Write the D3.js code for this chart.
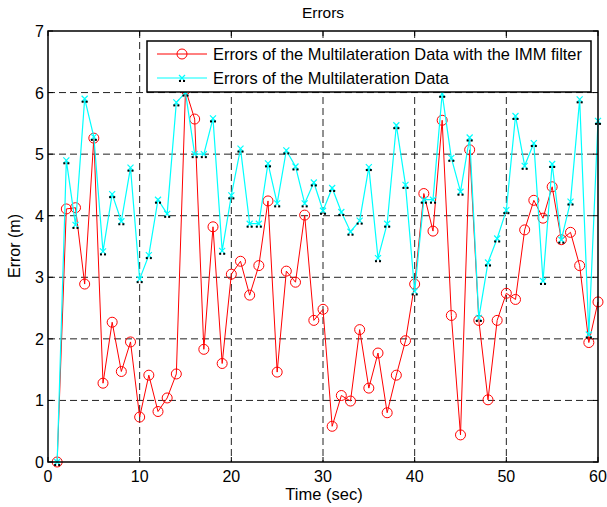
<!DOCTYPE html>
<html>
<head>
<meta charset="utf-8">
<script src="https://cdn.jsdelivr.net/npm/d3@7"></script>
<style>
  body { margin: 0; background: #fff; }
  svg { display: block; font-family: "Liberation Sans", Arial, sans-serif; }
</style>
</head>
<body>
<svg id="chart" width="607" height="507"></svg>
<script>
// time steps (sec)
const time = [1,2,3,4,5,6,7,8,9,10,11,12,13,14,15,16,17,18,19,20,
              21,22,23,24,25,26,27,28,29,30,31,32,33,34,35,36,37,38,39,40,
              41,42,43,44,45,46,47,48,49,50,51,52,53,54,55,56,57,58,59,60];

// errors with the IMM filter (m)
const immErrors = [0,4.11,4.13,2.89,5.26,1.28,2.27,1.47,1.95,0.73,
                   1.41,0.82,1.04,1.43,6.05,5.57,1.83,3.82,1.60,3.05,
                   3.26,2.71,3.19,4.24,1.46,3.10,2.92,4.01,2.30,2.48,
                   0.58,1.08,0.99,2.15,1.20,1.77,0.80,1.41,1.97,2.89,
                   4.36,3.75,5.55,2.38,0.44,5.07,2.30,1.01,2.30,2.74,
                   2.64,3.77,4.25,3.96,4.47,3.61,3.73,3.19,1.94,2.60];

// raw multilateration errors (m)
const mlatErrors = [0,4.90,3.85,5.90,5.28,3.42,4.35,3.91,4.78,2.97,
                    3.36,4.26,4.03,5.84,6.0,5.0,5.0,5.58,3.43,4.33,
                    5.09,3.87,3.87,4.85,4.20,5.06,4.80,4.20,4.54,4.08,
                    4.45,4.06,3.74,3.92,4.79,3.31,3.87,5.47,4.50,2.77,
                    4.26,4.26,5.98,4.94,4.39,5.27,2.34,3.24,3.63,4.09,
                    5.62,4.81,5.18,2.94,4.84,3.61,4.23,5.89,2.07,5.54];

const xTicks = [0, 10, 20, 30, 40, 50, 60];
const yTicks = [0, 1, 2, 3, 4, 5, 6, 7];
const seriesNames = ["Errors of the Multilateration Data with the IMM filter",
                     "Errors of the Multilateration Data"];

const m = { left: 48, right: 598, top: 31, bottom: 462 };
const svg = d3.select("#chart");

const x = d3.scaleLinear().domain([0, 60]).range([m.left, m.right]);
const y = d3.scaleLinear().domain([0, 7]).range([m.bottom, m.top]);

// grid
const grid = svg.append("g")
    .attr("stroke", "#222")
    .attr("stroke-width", 1)
    .attr("stroke-dasharray", "7,4");
grid.selectAll(".gx").data(xTicks.slice(1, -1)).enter().append("line")
    .attr("x1", d => x(d)).attr("x2", d => x(d))
    .attr("y1", m.top).attr("y2", m.bottom);
grid.selectAll(".gy").data(yTicks.slice(1, -1)).enter().append("line")
    .attr("y1", d => y(d)).attr("y2", d => y(d))
    .attr("x1", m.left).attr("x2", m.right);

// red series with circles
const line = d3.line().x((d, i) => x(time[i])).y(d => y(d));

svg.append("path")
    .datum(immErrors)
    .attr("fill", "none")
    .attr("stroke", "#ff0000")
    .attr("stroke-width", 1)
    .attr("d", line);

svg.append("g").selectAll("circle").data(immErrors).enter().append("circle")
    .attr("cx", (d, i) => x(time[i]))
    .attr("cy", d => y(d))
    .attr("r", 5)
    .attr("fill", "none")
    .attr("stroke", "#ff0000")
    .attr("stroke-width", 1);

// cyan series with x markers
svg.append("path")
    .datum(mlatErrors)
    .attr("fill", "none")
    .attr("stroke", "#00ffff")
    .attr("stroke-width", 1.2)
    .attr("d", line);

function xMark(g, cx, cy) {
    g.append("path")
        .attr("d", `M${cx-3},${cy-3}L${cx+3},${cy+3}M${cx-3},${cy+3}L${cx+3},${cy-3}`)
        .attr("stroke", "#00ffff")
        .attr("stroke-width", 1.2);
    g.append("rect").attr("x", cx - 3).attr("y", cy + 2).attr("width", 2).attr("height", 2).attr("fill", "#000");
    g.append("rect").attr("x", cx + 1).attr("y", cy + 2).attr("width", 2).attr("height", 2).attr("fill", "#000");
}

const marks = svg.append("g");
mlatErrors.forEach((d, i) => xMark(marks, x(time[i]), y(d)));

// axes box and inward ticks
const axes = svg.append("g").attr("stroke", "#000");
axes.append("rect")
    .attr("x", m.left).attr("y", m.top)
    .attr("width", m.right - m.left).attr("height", m.bottom - m.top)
    .attr("fill", "none").attr("stroke-width", 1.5);

xTicks.forEach(t => {
    axes.append("line").attr("x1", x(t)).attr("x2", x(t)).attr("y1", m.bottom).attr("y2", m.bottom - 5);
    axes.append("line").attr("x1", x(t)).attr("x2", x(t)).attr("y1", m.top).attr("y2", m.top + 5);
});
yTicks.forEach(t => {
    axes.append("line").attr("x1", m.left).attr("x2", m.left + 5).attr("y1", y(t)).attr("y2", y(t));
    axes.append("line").attr("x1", m.right).attr("x2", m.right - 5).attr("y1", y(t)).attr("y2", y(t));
});

svg.append("g").selectAll("text").data(xTicks).enter().append("text")
    .attr("x", d => x(d)).attr("y", 482)
    .attr("text-anchor", "middle")
    .attr("font-size", 16)
    .text(d => d);

svg.append("g").selectAll("text").data(yTicks).enter().append("text")
    .attr("x", 44).attr("y", d => y(d) + 6)
    .attr("text-anchor", "end")
    .attr("font-size", 16)
    .text(d => d);

// labels
svg.append("text").attr("x", 323).attr("y", 18)
    .attr("text-anchor", "middle").attr("font-size", 15.5).text("Errors");
svg.append("text").attr("x", 324).attr("y", 500)
    .attr("text-anchor", "middle").attr("font-size", 16.5).text("Time (sec)");
svg.append("text")
    .attr("transform", "translate(20,246) rotate(-90)")
    .attr("text-anchor", "middle").attr("font-size", 16).text("Error (m)");

// legend
const lg = svg.append("g");
lg.append("rect")
    .attr("x", 147).attr("y", 41).attr("width", 444).attr("height", 51)
    .attr("fill", "#fff").attr("stroke", "#000").attr("stroke-width", 1.5);

lg.append("line").attr("x1", 157).attr("x2", 207).attr("y1", 54).attr("y2", 54)
    .attr("stroke", "#ff0000");
lg.append("circle").attr("cx", 182).attr("cy", 54).attr("r", 5)
    .attr("fill", "none").attr("stroke", "#ff0000");
lg.append("line").attr("x1", 157).attr("x2", 207).attr("y1", 78).attr("y2", 78)
    .attr("stroke", "#00ffff").attr("stroke-width", 1.2);
xMark(lg, 182, 78);

lg.selectAll("text.leg").data(seriesNames).enter().append("text")
    .attr("x", 213).attr("y", (d, i) => 60 + i * 24)
    .attr("font-size", 16.4)
    .text(d => d);
</script>
</body>
</html>
